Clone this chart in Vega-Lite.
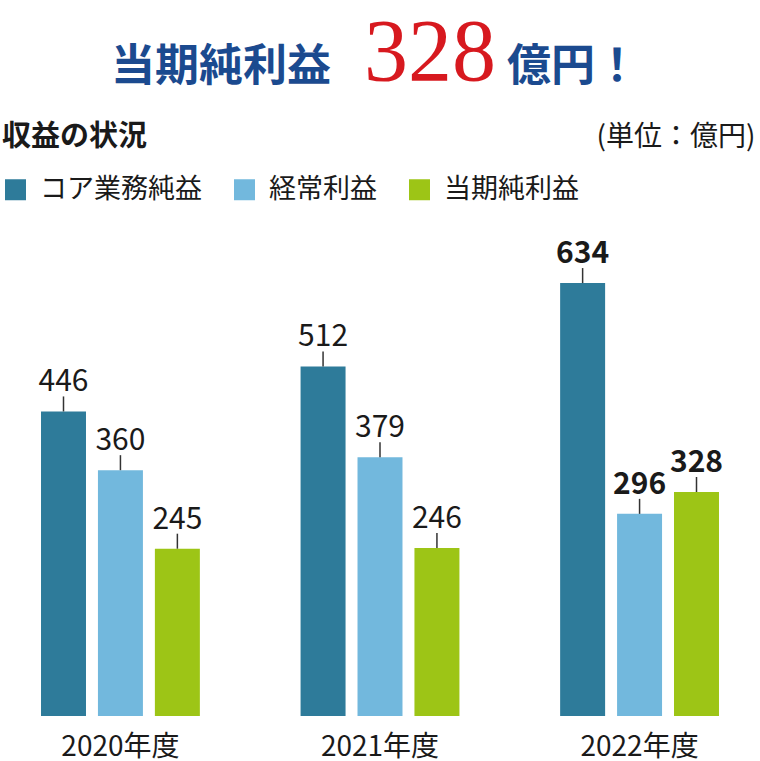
{
  "$schema": "https://vega.github.io/schema/vega-lite/v6.json",
  "width": 760,
  "height": 478,
  "autosize": "none",
  "padding": {"left": 0, "top": 238, "right": 0, "bottom": 45},
  "background": "white",
  "config": {
    "view": {"stroke": null},
    "font": "Noto Sans CJK JP"
  },
  "title": {
    "text": "当期純利益　　　　億円！",
    "subtitle": "\u200b\u00a0\u00a0\u00a0\u00a0\u00a0328",
    "anchor": "middle",
    "dx": -5,
    "offset": -11,
    "font": "Noto Sans CJK JP",
    "fontSize": 44,
    "fontWeight": "bold",
    "color": "#1b4a8f",
    "subtitleFont": "Liberation Serif",
    "subtitleFontSize": 88,
    "subtitleColor": "#d7191f",
    "subtitlePadding": -80
  },
  "data": {
    "values": [
      {"year": "2020年度", "series": "コア業務純益", "value": 446},
      {"year": "2020年度", "series": "経常利益", "value": 360},
      {"year": "2020年度", "series": "当期純利益", "value": 245},
      {"year": "2021年度", "series": "コア業務純益", "value": 512},
      {"year": "2021年度", "series": "経常利益", "value": 379},
      {"year": "2021年度", "series": "当期純利益", "value": 246},
      {"year": "2022年度", "series": "コア業務純益", "value": 634},
      {"year": "2022年度", "series": "経常利益", "value": 296},
      {"year": "2022年度", "series": "当期純利益", "value": 328}
    ]
  },
  "encoding": {
    "x": {
      "field": "year",
      "type": "nominal",
      "scale": {"paddingInner": 0.388, "paddingOuter": 0.158},
      "axis": {
        "title": null,
        "domain": false,
        "ticks": false,
        "tickSize": 0,
        "labelAngle": 0,
        "labelFontSize": 28,
        "labelColor": "#1a1a1a",
        "labelBaseline": "alphabetic",
        "labelPadding": 39
      }
    },
    "xOffset": {
      "field": "series",
      "type": "nominal",
      "scale": {"domain": ["コア業務純益", "経常利益", "当期純利益"], "paddingInner": 0.21, "paddingOuter": 0}
    },
    "y": {
      "field": "value",
      "type": "quantitative",
      "scale": {"domain": [0, 700], "nice": false},
      "axis": {
        "title": "(単位：億円)",
        "titleAngle": 0,
        "titleAlign": "right",
        "titleBaseline": "top",
        "titleX": 755,
        "titleY": -115,
        "titleFontSize": 28,
        "titleFontWeight": "normal",
        "titleColor": "#1a1a1a",
        "domain": false,
        "ticks": false,
        "labels": false,
        "grid": false
      }
    }
  },
  "layer": [
    {
      "mark": {"type": "bar"},
      "encoding": {
        "color": {
          "field": "series",
          "type": "nominal",
          "scale": {
            "domain": ["コア業務純益", "経常利益", "当期純利益"],
            "range": ["#2e7b9a", "#72b8dd", "#9dc516"]
          },
          "legend": {
            "title": "収益の状況",
            "titleOrient": "top",
            "titleFontSize": 29,
            "titleFontWeight": "bold",
            "titleColor": "#1a1a1a",
            "titlePadding": 24,
            "orient": "none",
            "legendX": 2,
            "legendY": -115,
            "direction": "horizontal",
            "symbolType": "square",
            "symbolSize": 441,
            "symbolStrokeWidth": 0,
            "symbolOpacity": 1,
            "labelFontSize": 27,
            "labelColor": "#1a1a1a",
            "labelOffset": 11,
            "labelLimit": 300,
            "columnPadding": 29,
            "padding": 0
          }
        }
      }
    },
    {
      "mark": {"type": "rule", "yOffset": -15, "y2Offset": 0, "color": "#333333", "strokeWidth": 1.5},
      "encoding": {
        "y2": {"field": "value"}
      }
    },
    {
      "transform": [{"filter": "datum.year != '2022年度'"}],
      "mark": {"type": "text", "align": "center", "baseline": "alphabetic", "dy": -20, "fontSize": 30, "color": "#1a1a1a"},
      "encoding": {
        "text": {"field": "value", "type": "quantitative"}
      }
    },
    {
      "transform": [{"filter": "datum.year == '2022年度'"}],
      "mark": {"type": "text", "align": "center", "baseline": "alphabetic", "dy": -20, "fontSize": 30, "fontWeight": "bold", "color": "#1a1a1a"},
      "encoding": {
        "text": {"field": "value", "type": "quantitative"}
      }
    }
  ]
}
